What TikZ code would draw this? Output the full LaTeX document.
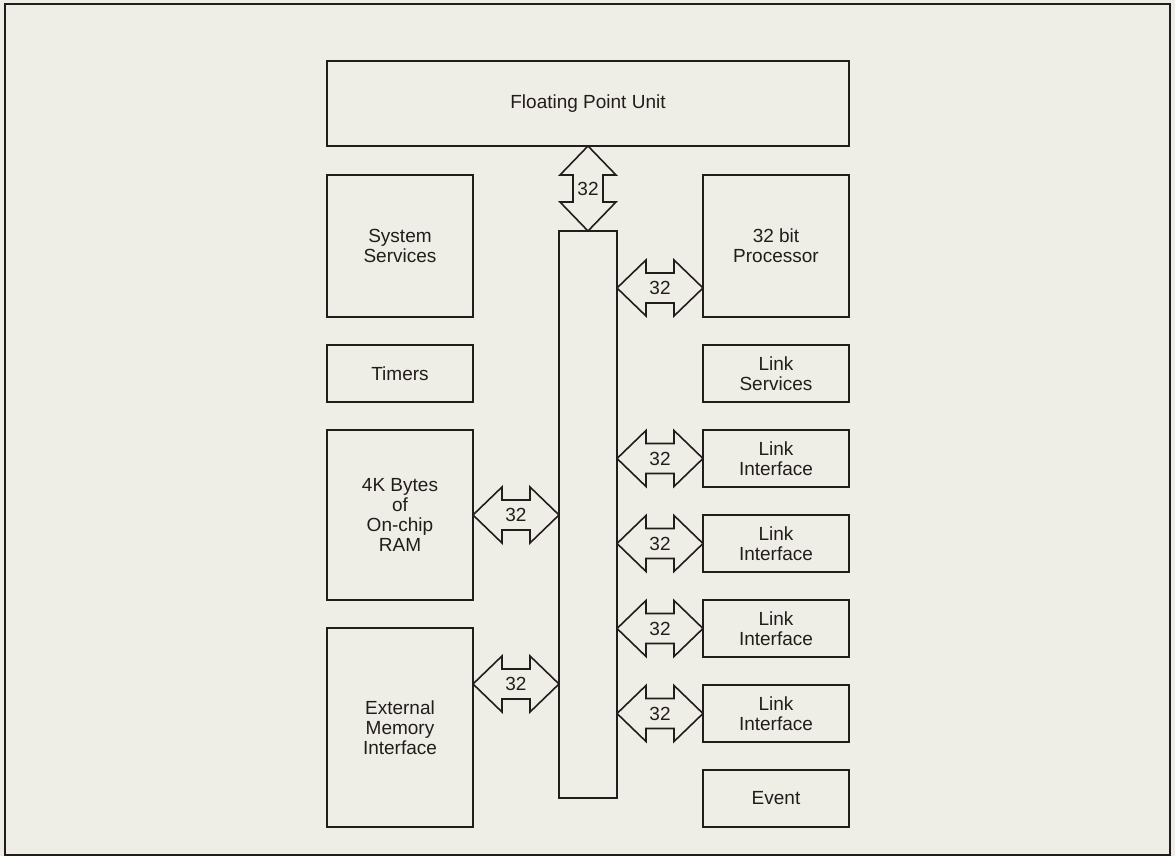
\documentclass[tikz,border=0pt]{standalone}
\usepackage{fontspec}
\setmainfont{Liberation Sans}
\usepackage{tikz}
\usetikzlibrary{positioning,calc}
\definecolor{paper}{RGB}{238,238,230}
\definecolor{ink}{RGB}{35,28,28}
\tikzstyle{unit} = [rectangle, draw=ink, text=ink, line width=0.8pt, align=center,
                    minimum width=73pt, inner sep=2pt, outer sep=0pt,
                    font=\fontsize{9.5}{10}\selectfont]
\tikzstyle{busarrow} = [draw=ink, line width=0.8pt, line join=miter]
\tikzstyle{buslabel} = [text=ink, inner sep=0pt, font=\fontsize{9.5}{10}\selectfont]
\newcommand{\headlen}{14.5pt}
\newcommand{\headw}{14pt}
\newcommand{\shaftw}{7.5pt}
\newcommand{\hbus}[3]{%
  \draw [busarrow] (#1) -- ($(#1)+(\headlen,\headw)$) -- ($(#1)+(\headlen,\shaftw)$)
    -- ($(#2)+(-\headlen,\shaftw)$) -- ($(#2)+(-\headlen,\headw)$) -- (#2)
    -- ($(#2)+(-\headlen,-\headw)$) -- ($(#2)+(-\headlen,-\shaftw)$)
    -- ($(#1)+(\headlen,-\shaftw)$) -- ($(#1)+(\headlen,-\headw)$) -- cycle;
  \node [buslabel] at ($(#1)!0.5!(#2)$) {#3};}
\newcommand{\vbus}[3]{%
  \draw [busarrow] (#1) -- ($(#1)+(-\headw,-\headlen)$) -- ($(#1)+(-\shaftw,-\headlen)$)
    -- ($(#2)+(-\shaftw,\headlen)$) -- ($(#2)+(-\headw,\headlen)$) -- (#2)
    -- ($(#2)+(\headw,\headlen)$) -- ($(#2)+(\shaftw,\headlen)$)
    -- ($(#1)+(\shaftw,-\headlen)$) -- ($(#1)+(\headw,-\headlen)$) -- cycle;
  \node [buslabel] at ($(#1)!0.5!(#2)$) {#3};}

\begin{document}
\begin{tikzpicture}[node distance=14pt]
    \fill [paper] (0,0) rectangle (587.5pt,-428pt);
    \useasboundingbox (0,0) rectangle (587.5pt,-428pt);
    \draw [ink, line width=0.9pt] (2.5pt,-2pt) rectangle (585pt,-427.5pt);

    \node [unit, minimum width=261pt, minimum height=42.5pt] (fpu) at (294pt,-51.75pt) {Floating Point Unit};
    \node [unit, minimum width=29pt, minimum height=283.5pt, below=42.5pt of fpu] (bus) {};

    \node [unit, minimum height=71pt, below right=14.5pt and 0pt of fpu.south west] (sysserv) {System\\Services};
    \node [unit, minimum height=28.5pt, below=of sysserv] (timers) {Timers};
    \node [unit, minimum height=85pt, below=of timers] (ram) {4K Bytes\\of\\On-chip\\RAM};
    \node [unit, minimum height=99.5pt, below=of ram] (extmem) {External\\Memory\\Interface};

    \node [unit, minimum height=71pt, below left=14.5pt and 0pt of fpu.south east] (proc) {32 bit\\Processor};
    \node [unit, minimum height=28.5pt, below=of proc] (linkserv) {Link\\Services};
    \node [unit, minimum height=28.5pt, below=of linkserv] (link1) {Link\\Interface};
    \node [unit, minimum height=28.5pt, below=of link1] (link2) {Link\\Interface};
    \node [unit, minimum height=28.5pt, below=of link2] (link3) {Link\\Interface};
    \node [unit, minimum height=28.5pt, below=of link3] (link4) {Link\\Interface};
    \node [unit, minimum height=28.5pt, below=of link4] (event) {Event};

    \coordinate (procport) at ($(proc.north west)+(0,-56.5pt)$);
    \coordinate (extport) at ($(extmem.north east)+(0,-28pt)$);
    \coordinate (procbus) at (bus.east |- procport);
    \coordinate (rambus) at (bus.west |- ram.east);
    \coordinate (extbus) at (bus.west |- extport);

    \vbus{fpu.south}{bus.north}{32}
    \hbus{procbus}{procport}{32}
    \hbus{ram.east}{rambus}{32}
    \hbus{extport}{extbus}{32}
    \foreach \n in {link1,link2,link3,link4} {
      \coordinate (\n-bus) at (bus.east |- \n.west);
      \hbus{\n-bus}{\n.west}{32}
    }
\end{tikzpicture}
\end{document}
